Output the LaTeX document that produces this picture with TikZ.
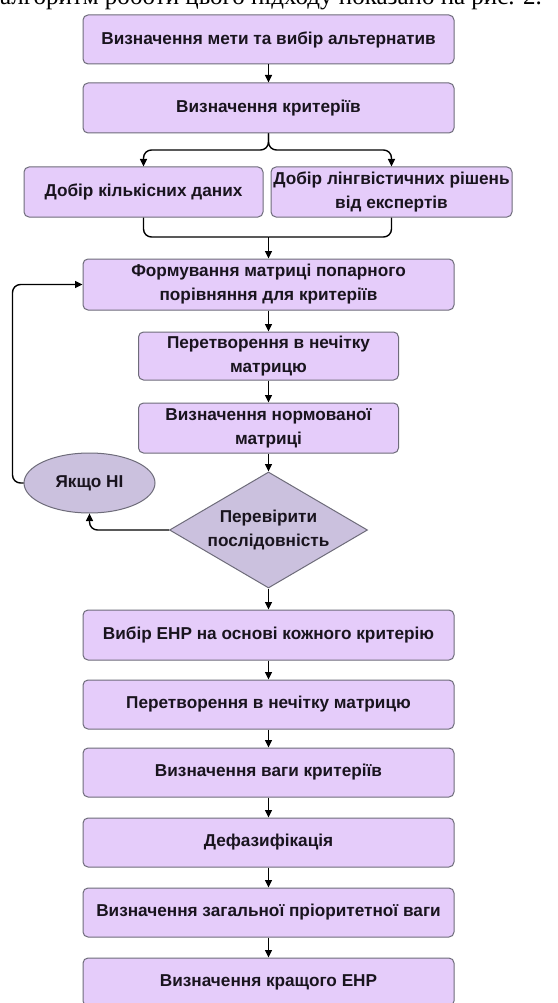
\documentclass[tikz,border=0pt]{standalone}
\usepackage{fontspec}
\setmainfont{Liberation Sans}
\newfontfamily\seriffont{Liberation Serif}
\usetikzlibrary{shapes.geometric,arrows.meta}
\definecolor{boxfill}{RGB}{229,204,250}
\definecolor{decfill}{RGB}{203,193,222}
\definecolor{boxline}{RGB}{110,108,122}
\definecolor{textc}{RGB}{25,20,30}
\begin{document}
\begin{tikzpicture}[x=1pt,y=-1pt,
  txt/.style={align=center, text=textc, font=\bfseries\fontsize{17.2}{24}\selectfont},
  box/.style={txt, draw=boxline, fill=boxfill, rounded corners=5pt, line width=1pt,
    inner sep=0pt},
  wbox/.style={box, minimum width=371pt},
  nbox/.style={box, minimum width=260pt},
  dec/.style={txt, diamond, draw=boxline, fill=decfill, line width=1pt, inner sep=0pt,
    aspect=1.7, minimum width=198pt, minimum height=116pt},
  ell/.style={txt, ellipse, draw=boxline, fill=decfill, line width=1pt, inner sep=0pt,
    minimum width=131pt, minimum height=60pt},
  arr/.style={-{Triangle[length=7.5pt,width=7pt]}, line width=1.4pt, black},
  ln/.style={line width=1.4pt, black}
]
\useasboundingbox (0,0) rectangle (557,1003);
\clip (0,0) rectangle (557,1003);
\fill[white] (0,0) rectangle (557,1003);

\node[anchor=base east, inner sep=0pt, font=\seriffont\fontsize{25}{28}\selectfont] (top) at (542,5)
  {алгоритм роботи цього підходу показано на рис. 2.};

\node[wbox, minimum height=49pt] (b1) at (268.5,39.5) {Визначення мети та вибір альтернатив};
\node[wbox, minimum height=50pt] (b2) at (268.5,108) {Визначення критеріїв};
\node[box, minimum width=239pt, minimum height=50pt] (b3l) at (143.5,192) {Добір кількісних даних};
\node[box, minimum width=241pt, minimum height=50pt] (b3r) at (391.5,192) {Добір лінгвістичних рішень\\від експертів};
\node[wbox, minimum height=51pt] (b4) at (268.5,284.5) {Формування матриці попарного\\порівняння для критеріїв};
\node[nbox, minimum height=48pt] (b5) at (268.5,356) {Перетворення в нечітку\\матрицю};
\node[nbox, minimum height=50pt] (b6) at (268.5,428) {Визначення нормованої\\матриці};
\node[dec] (d) at (268.5,530) {Перевірити\\послідовність};
\node[ell] (e) at (89.5,483) {Якщо НІ};
\node[wbox, minimum height=50pt] (b7) at (268.5,635) {Вибір ЕНР на основі кожного критерію};
\node[wbox, minimum height=49pt] (b8) at (268.5,704.5) {Перетворення в нечітку матрицю};
\node[wbox, minimum height=49pt] (b9) at (268.5,772.5) {Визначення ваги критеріїв};
\node[wbox, minimum height=49pt] (b10) at (268.5,842.5) {Дефазифікація};
\node[wbox, minimum height=49pt] (b11) at (268.5,912.5) {Визначення загальної пріоритетної ваги};
\node[wbox, minimum height=48pt] (b12) at (268.5,982) {Визначення кращого ЕНР};

\draw[arr] (b1) -- (b2);
\coordinate (sp) at (268.5,150);
\draw[arr, rounded corners=8pt] (b2.south) -- (sp) -| (b3l.north);
\draw[arr, rounded corners=8pt] (b2.south) -- (sp) -| (b3r.north);
\coordinate (mg) at (268.5,237);
\draw[ln, rounded corners=8pt] (b3l.south) |- (mg);
\draw[ln, rounded corners=8pt] (b3r.south) |- (mg);
\draw[arr] (mg) -- (b4.north);
\draw[arr] (b4) -- (b5);
\draw[arr] (b5) -- (b6);
\draw[arr] (b6) -- (d);
\draw[arr, rounded corners=8pt] (d.west) -| (e.south);
\draw[arr, rounded corners=8pt] (e.west) -- ++(-11,0) |- (b4.west);
\draw[arr] (d) -- (b7);
\draw[arr] (b7) -- (b8);
\draw[arr] (b8) -- (b9);
\draw[arr] (b9) -- (b10);
\draw[arr] (b10) -- (b11);
\draw[arr] (b11) -- (b12);
\end{tikzpicture}
\end{document}
